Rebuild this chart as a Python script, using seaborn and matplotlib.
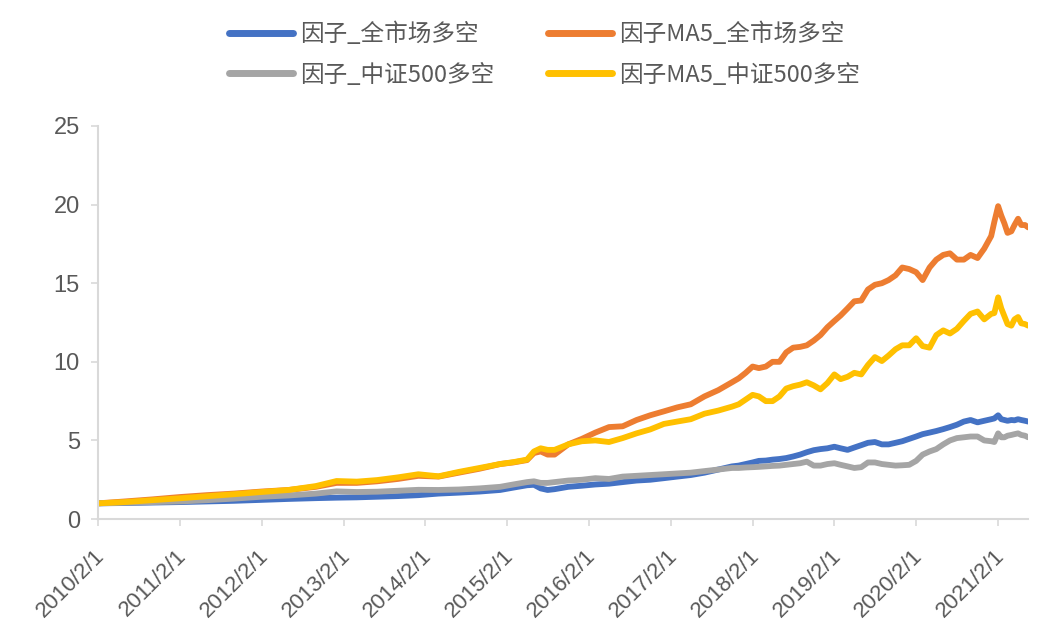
import pandas as pd
import matplotlib
matplotlib.use("Agg")
import matplotlib.pyplot as plt
import matplotlib.dates as mdates
import matplotlib.transforms as mtransforms
import seaborn as sns

# 日期（早期按季度/双月取点，2017年底起按月，2021年按半月）
early_dates = ["2010-02-01", "2010-06-01", "2010-10-01", "2011-02-01", "2011-06-01", "2011-10-01",
               "2012-02-01", "2012-06-01", "2012-10-01", "2013-01-01", "2013-04-01", "2013-07-01",
               "2013-10-01", "2014-01-01", "2014-04-01", "2014-07-01", "2014-10-01", "2015-01-01",
               "2015-03-01", "2015-05-01", "2015-06-01", "2015-07-01", "2015-08-01", "2015-09-01",
               "2015-11-01", "2016-01-01", "2016-03-01", "2016-05-01", "2016-07-01", "2016-09-01",
               "2016-11-01", "2017-01-01", "2017-03-01", "2017-05-01", "2017-07-01", "2017-09-01",
               "2017-11-01"]
late_dates = [d.strftime("%Y-%m-%d") for d in pd.date_range("2017-12-01", "2021-01-01", freq="MS")]
tail_dates = ["2021-01-15", "2021-02-01", "2021-02-15", "2021-03-01", "2021-03-15", "2021-04-01",
              "2021-04-15", "2021-05-01", "2021-05-15", "2021-06-01", "2021-06-15"]
dates = early_dates + late_dates + tail_dates

factor_all = [1.0, 1.02, 1.05, 1.08, 1.12, 1.16, 1.22, 1.28, 1.33, 1.36, 1.38, 1.42, 1.46, 1.52,
              1.62, 1.68, 1.75, 1.85, 2.0, 2.15, 2.18, 1.95, 1.85, 1.9, 2.05, 2.12, 2.2, 2.25,
              2.35, 2.45, 2.5, 2.6, 2.7, 2.8, 2.95, 3.15, 3.35,
              3.4, 3.5, 3.6, 3.7, 3.72, 3.78, 3.82, 3.88, 3.98, 4.1, 4.25, 4.38, 4.45, 4.5,
              4.6, 4.5, 4.4, 4.55, 4.7, 4.85, 4.9, 4.75, 4.75, 4.85, 4.95, 5.1, 5.25, 5.4,
              5.5, 5.6, 5.72, 5.85, 6.0, 6.2, 6.3, 6.15, 6.25, 6.35,
              6.4, 6.6, 6.35, 6.3, 6.25, 6.3, 6.28, 6.35, 6.3, 6.25, 6.2]
ma5_all = [1.0, 1.12, 1.25, 1.4, 1.52, 1.62, 1.75, 1.85, 2.05, 2.3, 2.3, 2.4, 2.55, 2.75,
           2.7, 2.95, 3.2, 3.5, 3.6, 3.75, 4.2, 4.3, 4.1, 4.1, 4.75, 5.1, 5.5, 5.85,
           5.9, 6.3, 6.6, 6.85, 7.1, 7.3, 7.8, 8.2, 8.7,
           8.95, 9.3, 9.7, 9.6, 9.7, 10.0, 10.0, 10.6, 10.9, 10.95, 11.05, 11.35, 11.7, 12.2,
           12.6, 12.95, 13.4, 13.85, 13.9, 14.6, 14.9, 15.0, 15.2, 15.5, 16.0, 15.9, 15.7, 15.2,
           16.0, 16.5, 16.8, 16.9, 16.5, 16.5, 16.8, 16.6, 17.2, 18.0,
           18.9, 19.9, 19.3, 18.8, 18.2, 18.3, 18.7, 19.1, 18.7, 18.7, 18.55]
factor_500 = [1.0, 1.04, 1.08, 1.12, 1.2, 1.3, 1.42, 1.5, 1.62, 1.76, 1.72, 1.74, 1.8, 1.86,
              1.85, 1.88, 1.95, 2.05, 2.2, 2.35, 2.4, 2.3, 2.3, 2.35, 2.45, 2.5, 2.6, 2.55,
              2.7, 2.75, 2.8, 2.85, 2.9, 2.95, 3.05, 3.15, 3.25,
              3.25, 3.28, 3.3, 3.32, 3.35, 3.38, 3.4, 3.45, 3.5, 3.55, 3.65, 3.4, 3.4, 3.5,
              3.55, 3.45, 3.35, 3.25, 3.3, 3.6, 3.6, 3.5, 3.45, 3.4, 3.42, 3.45, 3.7, 4.1,
              4.3, 4.45, 4.75, 5.0, 5.15, 5.2, 5.25, 5.25, 5.0, 4.95,
              4.9, 5.45, 5.2, 5.2, 5.3, 5.35, 5.4, 5.45, 5.35, 5.3, 5.2]
ma5_500 = [1.0, 1.08, 1.2, 1.32, 1.45, 1.58, 1.72, 1.85, 2.1, 2.42, 2.38, 2.48, 2.65, 2.85,
           2.72, 3.0, 3.25, 3.5, 3.62, 3.78, 4.3, 4.5, 4.4, 4.4, 4.75, 4.95, 5.0, 4.9,
           5.15, 5.45, 5.7, 6.05, 6.2, 6.35, 6.7, 6.9, 7.15,
           7.3, 7.6, 7.9, 7.8, 7.5, 7.5, 7.8, 8.3, 8.45, 8.55, 8.7, 8.5, 8.25, 8.65,
           9.2, 8.9, 9.05, 9.3, 9.2, 9.8, 10.3, 10.05, 10.4, 10.8, 11.05, 11.05, 11.5, 11.0,
           10.9, 11.7, 12.0, 11.8, 12.1, 12.6, 13.05, 13.2, 12.7, 13.05,
           13.1, 14.1, 13.4, 12.9, 12.4, 12.3, 12.7, 12.85, 12.45, 12.4, 12.3]

series_names = ["因子_全市场多空", "因子MA5_全市场多空", "因子_中证500多空", "因子MA5_中证500多空"]
series_values = [factor_all, ma5_all, factor_500, ma5_500]
colors = ["#4472C4", "#ED7D31", "#A5A5A5", "#FFC000"]

tick_years = list(range(2010, 2022))
tick_labels = [f"{y}/2/1" for y in tick_years]
y_ticks = [0, 5, 10, 15, 20, 25]

# 长表
frames = []
for name, vals in zip(series_names, series_values):
    frames.append(pd.DataFrame({"date": pd.to_datetime(dates), "value": vals, "series": name}))
df = pd.concat(frames, ignore_index=True)

sns.set_style("white")
plt.rcParams["font.family"] = ["Noto Sans CJK SC", "DejaVu Sans"]
text_color = "#595959"
axis_color = "#D9D9D9"
num_font = ["Liberation Sans", "DejaVu Sans"]

fig = plt.figure(figsize=(10.47, 6.33), dpi=100)
ax = fig.add_axes([0.0936, 0.18, 0.8884, 0.621])

sns.lineplot(data=df, x="date", y="value", hue="series", hue_order=series_names,
             palette=colors, linewidth=4.2, legend=False, ax=ax, sort=False)

ax.set_xlim(pd.Timestamp("2010-02-01"), pd.Timestamp("2021-06-15"))
ax.set_ylim(0, 25)
ax.set_yticks(y_ticks)
ax.set_yticklabels([str(v) for v in y_ticks], family=num_font)
ax.set_xticks([mdates.date2num(pd.Timestamp(f"{y}-02-01")) for y in tick_years])
ax.set_xticklabels(tick_labels, rotation=45, ha="right", rotation_mode="anchor", family=num_font)
ax.set_xlabel("")
ax.set_ylabel("")

ax.tick_params(axis="y", labelsize=17, colors=text_color, length=5, width=1.2,
               color=axis_color, pad=8, left=True)
ax.tick_params(axis="x", labelsize=16, colors=text_color, length=5, width=1.2,
               color=axis_color, pad=14, bottom=True)

# x 轴标签略向左移
offset = mtransforms.ScaledTranslation(-4 / 100, 0, fig.dpi_scale_trans)
for lab in ax.get_xticklabels():
    lab.set_transform(lab.get_transform() + offset)

for side in ["top", "right"]:
    ax.spines[side].set_visible(False)
for side in ["left", "bottom"]:
    ax.spines[side].set_color(axis_color)
    ax.spines[side].set_linewidth(1.5)

# 图例按行排列：先第一行两个，再第二行两个
order = [0, 2, 1, 3]
handles = [plt.Line2D([], [], color=colors[i], linewidth=5, solid_capstyle="round") for i in order]
labels = [series_names[i] for i in order]
leg = fig.legend(handles, labels, loc="center", bbox_to_anchor=(0.52, 0.914), ncol=2,
                 frameon=False, fontsize=17, handlelength=2.7, handletextpad=0.3,
                 columnspacing=2.3, labelspacing=0.75)
for t in leg.get_texts():
    t.set_color(text_color)

fig.savefig("out.png", dpi=100)
